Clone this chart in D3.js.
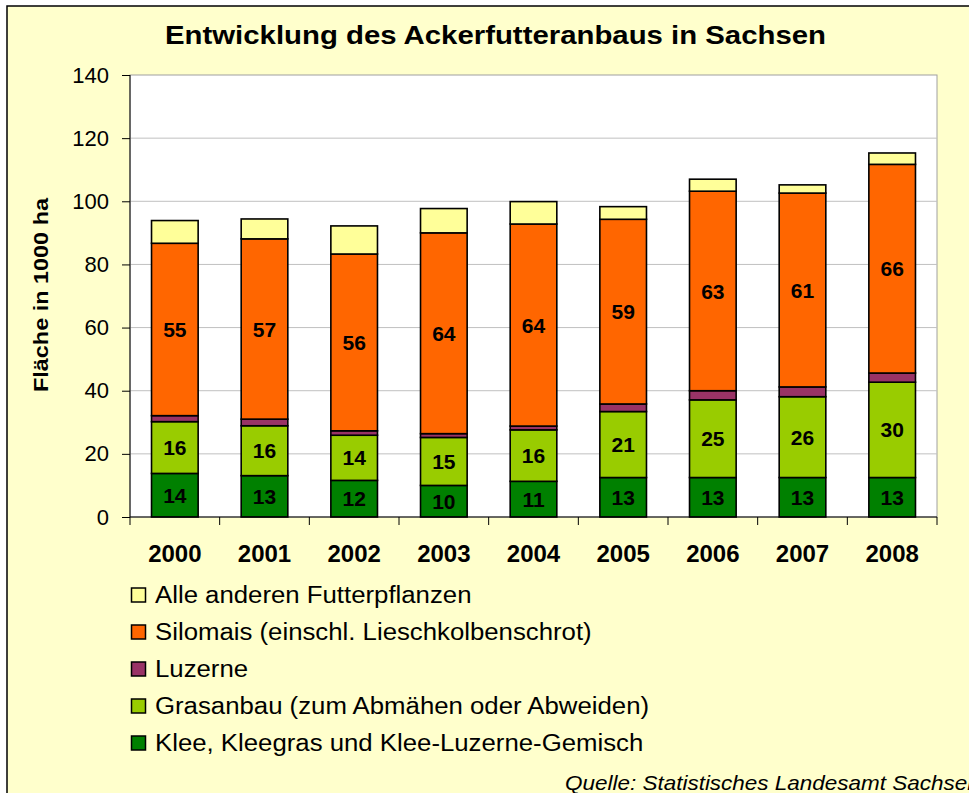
<!DOCTYPE html>
<html><head><meta charset="utf-8">
<script src="https://cdn.jsdelivr.net/npm/d3@7"></script>
<style>html,body{margin:0;padding:0;background:#fff;}svg{display:block;font-family:Arial,"Liberation Sans",sans-serif;}</style>
</head><body>
<script>
const years = ["2000","2001","2002","2003","2004","2005","2006","2007","2008"];
const klee   = [13.8, 13.1, 11.6, 10.0, 11.3, 12.5, 12.5, 12.5, 12.5];
const gras   = [16.4, 15.8, 14.3, 15.2, 16.3, 20.9, 24.6, 25.6, 30.2];
const luzerne= [1.9, 2.1, 1.4, 1.2, 1.2, 2.4, 2.9, 3.1, 2.9];
const silomais=[54.6, 57.1, 56.0, 63.6, 64.0, 58.5, 63.2, 61.4, 66.1];
const andere = [7.2, 6.3, 8.9, 7.7, 7.1, 4.0, 3.8, 2.6, 3.6];
const seriesNames = ["Klee, Kleegras und Klee-Luzerne-Gemisch","Grasanbau (zum Abmähen oder Abweiden)","Luzerne","Silomais (einschl. Lieschkolbenschrot)","Alle anderen Futterpflanzen"];
const seriesColors = ["#008000","#99CC00","#993366","#FF6600","#FFFF99"];
const labelled = [true,true,false,true,false];
const yTicks = [0,20,40,60,80,100,120,140];
const title = "Entwicklung des Ackerfutteranbaus in Sachsen";
const yTitle = "Fläche in 1000 ha";
const source = "Quelle: Statistisches Landesamt Sachsen";

function stretch(sel,f){ sel.each(function(){ const w=this.getComputedTextLength(); this.setAttribute("textLength",w*f); this.setAttribute("lengthAdjust","spacingAndGlyphs"); }); }
function fitTo(sel,w){ sel.attr("textLength",w).attr("lengthAdjust","spacingAndGlyphs"); }

const W=969,H=793;
const svg=d3.select("body").append("svg").attr("width",W).attr("height",H);
svg.append("rect").attr("x",7).attr("y",6).attr("width",1100).attr("height",1100)
  .attr("fill","#FFFFCC").attr("stroke","#000").attr("stroke-width",1.5);

const L=130,R=937,T=75,B=517;
const x=d3.scaleBand().domain(years).range([L,R]).paddingInner(0.48).paddingOuter(0.24);
const y=d3.scaleLinear().domain([0,140]).range([B,T]);

svg.append("rect").attr("x",L).attr("y",T).attr("width",R-L).attr("height",B-T).attr("fill","#fff")
  .attr("stroke","#A0A0A0").attr("stroke-width",1);
svg.append("g").selectAll("line").data(yTicks.filter(v=>v>0&&v<140)).join("line")
  .attr("x1",L).attr("x2",R).attr("y1",d=>y(d)).attr("y2",d=>y(d)).attr("stroke","#C0C0C0").attr("stroke-width",1);

const data=years.map((yr,i)=>({year:yr,s0:klee[i],s1:gras[i],s2:luzerne[i],s3:silomais[i],s4:andere[i]}));
const stack=d3.stack().keys(["s0","s1","s2","s3","s4"])(data);
const g=svg.append("g");
stack.forEach((layer,k)=>{
  g.append("g").selectAll("rect").data(layer).join("rect")
    .attr("x",d=>x(d.data.year)).attr("width",x.bandwidth())
    .attr("y",d=>y(d[1])).attr("height",d=>y(d[0])-y(d[1]))
    .attr("fill",seriesColors[k]).attr("stroke","#000").attr("stroke-width",1.6);
});
stack.forEach((layer,k)=>{
  if(!labelled[k]) return;
  g.append("g").selectAll("text").data(layer).join("text")
    .attr("x",d=>x(d.data.year)+x.bandwidth()/2).attr("y",d=>(y(d[0])+y(d[1]))/2)
    .attr("dy","0.36em").attr("text-anchor","middle").attr("font-weight","bold").attr("font-size",21)
    .text(d=>d3.format(".0f")(d[1]-d[0]));
});

// y axis
const ya=svg.append("g").attr("transform",`translate(${L},0)`)
  .call(d3.axisLeft(y).tickValues(yTicks).tickSize(8).tickPadding(13).tickFormat(d3.format("d")));
ya.select(".domain").attr("stroke","#000").attr("d",`M0,${T}V${B}`);
ya.selectAll("line").attr("stroke","#000");
ya.selectAll("text").attr("font-size",22).attr("font-family","Arial,'Liberation Sans',sans-serif").attr("fill","#000");

// x axis
svg.append("line").attr("x1",L).attr("x2",R).attr("y1",B).attr("y2",B).attr("stroke","#000");
svg.append("g").selectAll("line").data(d3.range(years.length+1)).join("line")
  .attr("x1",i=>L+i*(R-L)/years.length).attr("x2",i=>L+i*(R-L)/years.length)
  .attr("y1",B).attr("y2",B+8).attr("stroke","#000");
svg.append("g").selectAll("text").data(years).join("text")
  .attr("x",d=>x(d)+x.bandwidth()/2).attr("y",562).attr("text-anchor","middle")
  .attr("font-weight","bold").attr("font-size",24).text(d=>d);

fitTo(svg.append("text").attr("x",495.5).attr("y",44).attr("text-anchor","middle").attr("font-weight","bold")
  .attr("font-size",25).text(title),661);
fitTo(svg.append("text").attr("transform","translate(40,295) rotate(-90)").attr("dy","0.36em").attr("text-anchor","middle")
  .attr("font-weight","bold").attr("font-size",21).text(yTitle),194);

// legend
const order=[4,3,2,1,0];
const lg=svg.append("g").selectAll("g").data(order).join("g")
  .attr("transform",(d,i)=>`translate(131,${595+i*37})`);
lg.append("rect").attr("x",0.5).attr("y",-7).attr("width",14).attr("height",14)
  .attr("fill",d=>seriesColors[d]).attr("stroke","#000").attr("stroke-width",1.5);
stretch(lg.append("text").attr("x",24).attr("dy","0.36em").attr("font-size",23).text(d=>seriesNames[d]),1.12);

stretch(svg.append("text").attr("x",565).attr("y",790).attr("font-style","italic").attr("font-size",21).text(source),1.07);
</script>
</body></html>
